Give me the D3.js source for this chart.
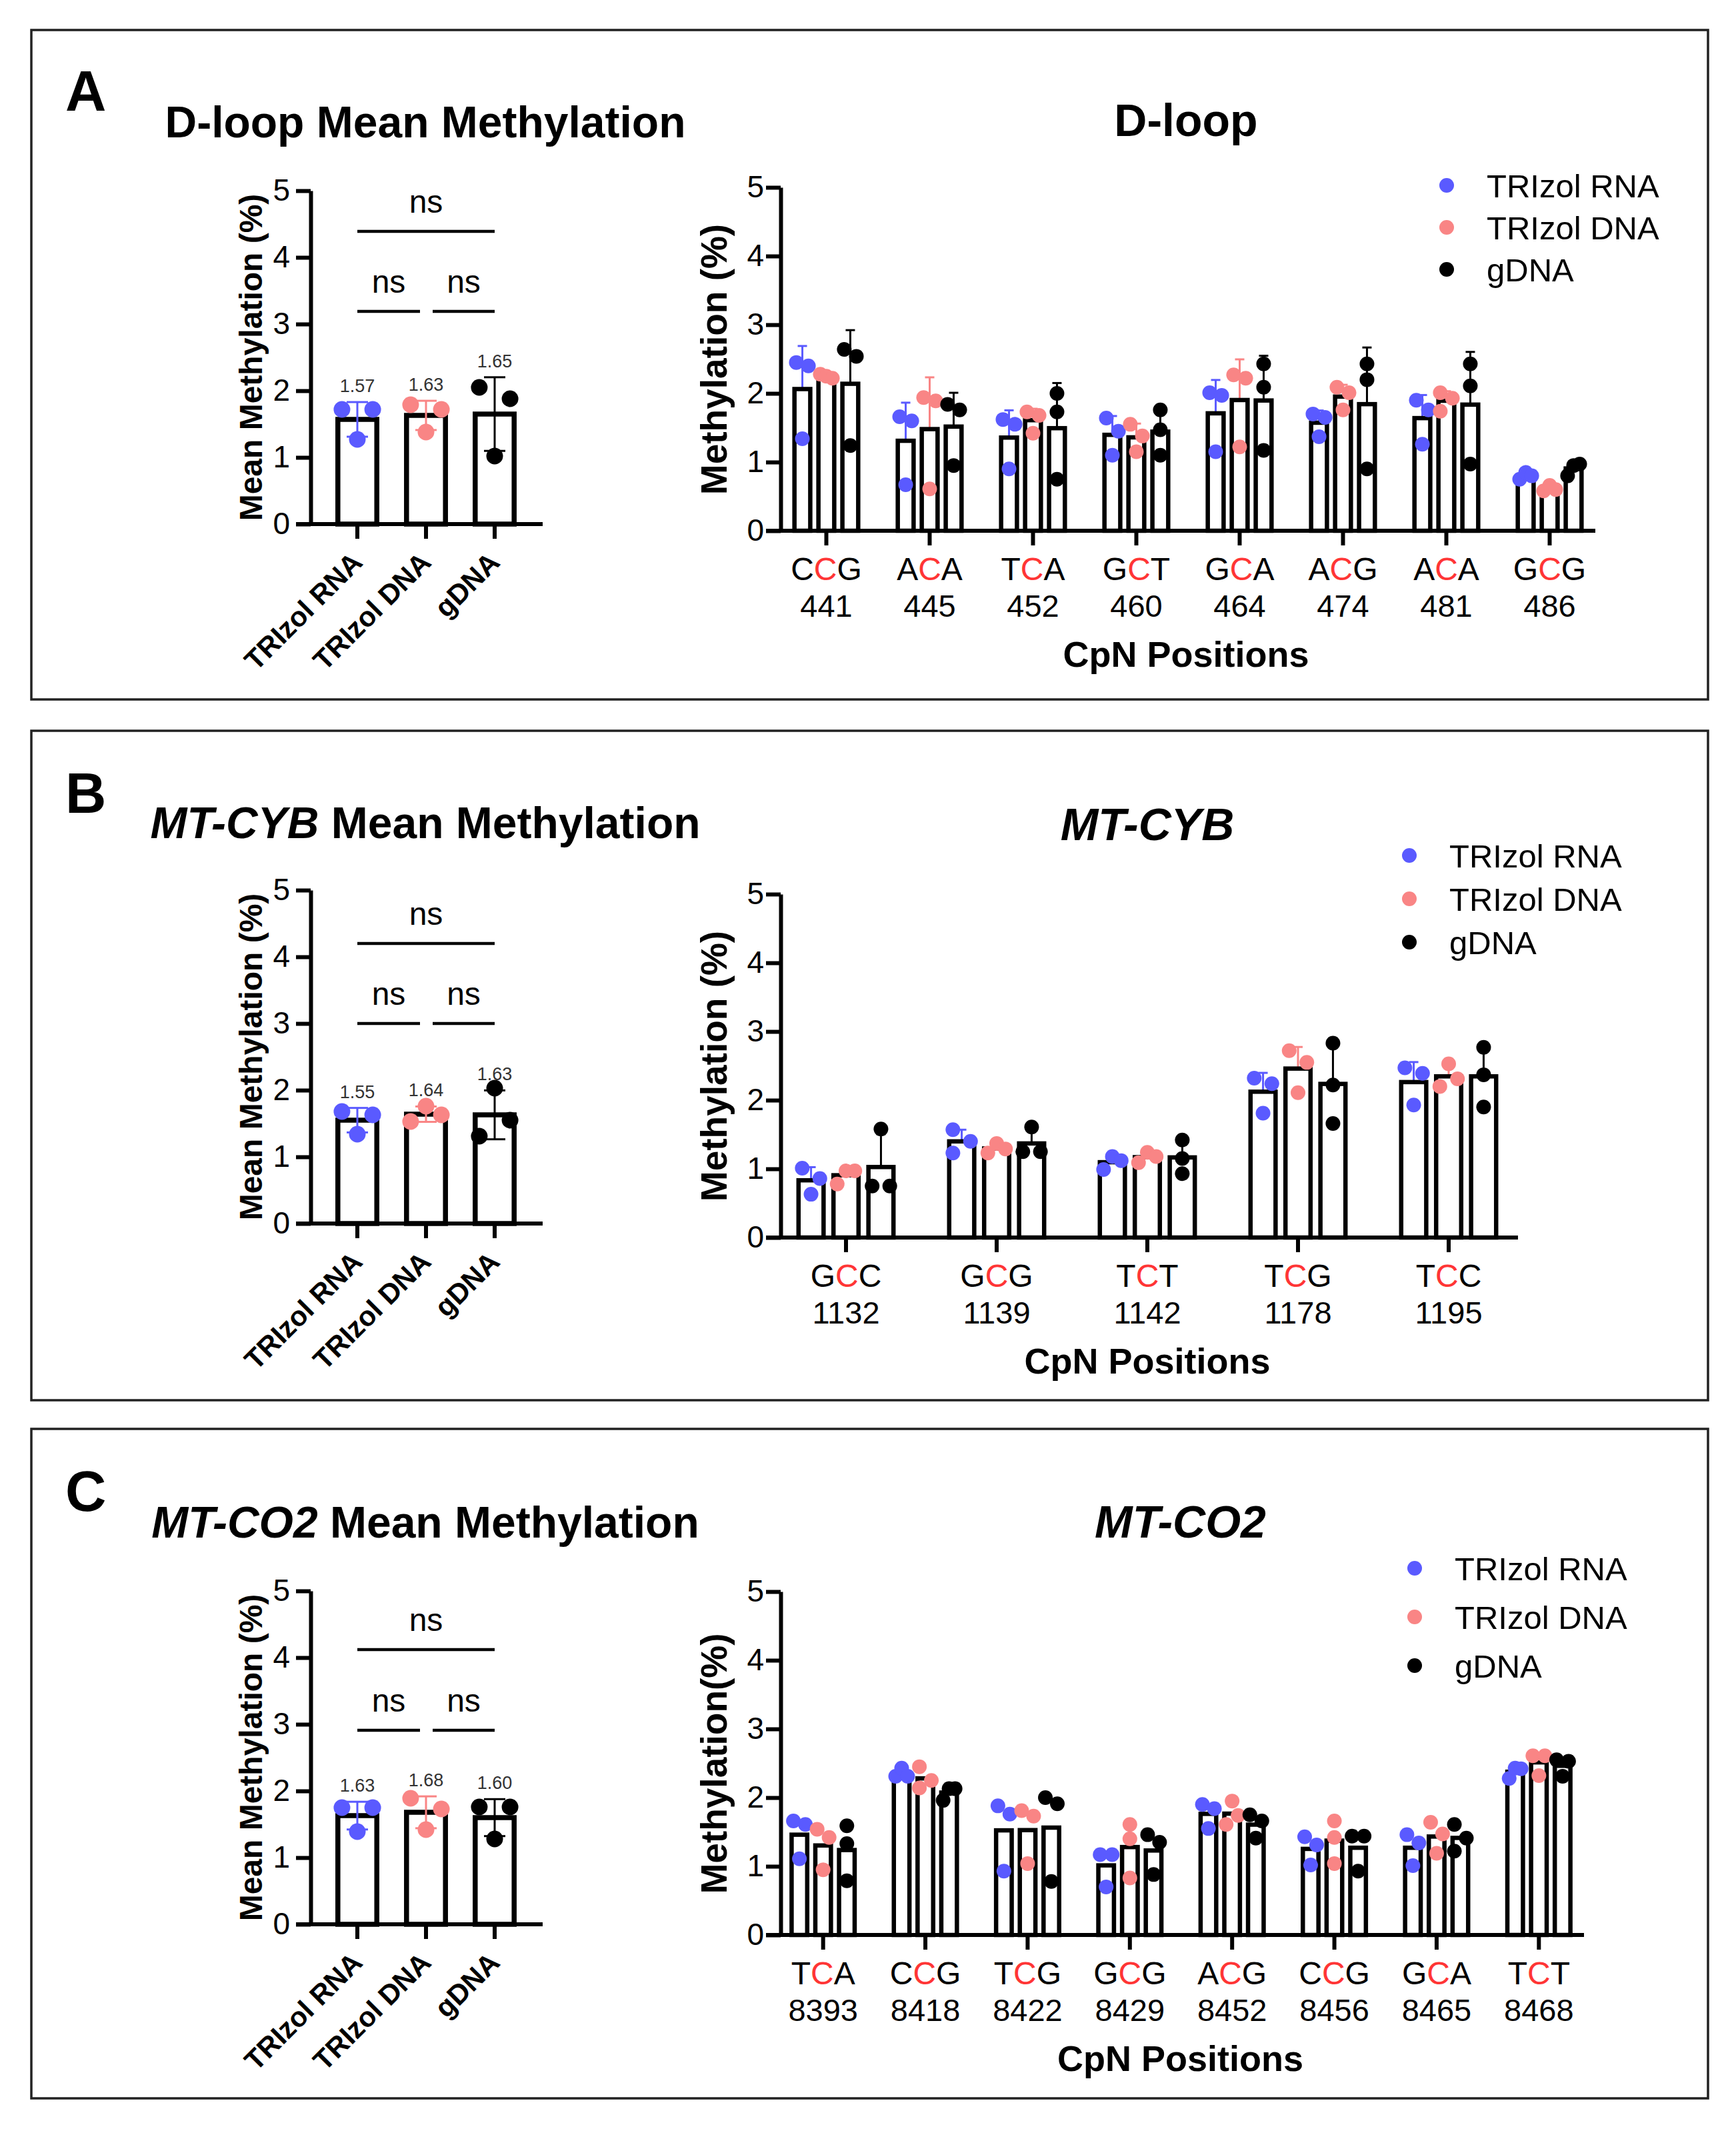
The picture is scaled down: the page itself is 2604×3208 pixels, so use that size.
<!DOCTYPE html>
<html>
<head>
<meta charset="utf-8">
<script src="https://cdn.jsdelivr.net/npm/d3@7"></script>
<style>
  body { margin: 0; background: #fff; }
  svg { display: block; font-family: "Liberation Sans", Arial, sans-serif; }
</style>
</head>
<body>
<div id="fig"></div>
<script>
// ---------- data ----------
const groups = ["TRIzol RNA", "TRIzol DNA", "gDNA"];
const groupColors = ["#5a5aff", "#f98585", "#000000"];
const yTicks = [0, 1, 2, 3, 4, 5];

// mean methylation, 3 replicates per extraction
const dloopMean = [[1.72, 1.72, 1.27], [1.79, 1.72, 1.38], [2.05, 1.88, 1.02]];
const dloopMeanLabels = ["1.57", "1.63", "1.65"];
const cybMean = [[1.68, 1.63, 1.34], [1.53, 1.76, 1.63], [2.03, 1.31, 1.55]];
const cybMeanLabels = ["1.55", "1.64", "1.63"];
const co2Mean = [[1.75, 1.75, 1.39], [1.89, 1.73, 1.42], [1.76, 1.76, 1.28]];
const co2MeanLabels = ["1.63", "1.68", "1.60"];

// D-loop CpN sites
const dloopCodons = ["CCG", "ACA", "TCA", "GCT", "GCA", "ACG", "ACA", "GCG"];
const dloopPos = ["441", "445", "452", "460", "464", "474", "481", "486"];
const dloopRNA = [[2.45, 2.40, 1.34], [1.66, 1.60, 0.67], [1.62, 1.55, 0.90], [1.64, 1.45, 1.10],
                  [2.01, 1.97, 1.15], [1.70, 1.65, 1.37], [1.90, 1.76, 1.26], [0.75, 0.85, 0.80]];
const dloopDNA = [[2.28, 2.25, 2.22], [1.94, 1.89, 0.61], [1.73, 1.68, 1.42], [1.55, 1.38, 1.15],
                  [2.27, 2.22, 1.22], [2.09, 2.01, 1.76], [2.01, 1.93, 1.74], [0.58, 0.66, 0.60]];
const dloopG   = [[2.64, 2.54, 1.24], [1.84, 1.76, 0.95], [2.00, 1.73, 0.75], [1.76, 1.47, 1.10],
                  [2.43, 2.09, 1.17], [2.43, 2.20, 0.90], [2.43, 2.11, 0.97], [0.80, 0.95, 0.97]];

// MT-CYB CpN sites
const cybCodons = ["GCC", "GCG", "TCT", "TCG", "TCC"];
const cybPos = ["1132", "1139", "1142", "1178", "1195"];
const cybRNA = [[1.01, 0.86, 0.63], [1.57, 1.40, 1.23], [0.99, 1.18, 1.12], [2.32, 2.24, 1.81], [2.47, 2.39, 1.93]];
const cybDNA = [[0.78, 0.97, 0.97], [1.23, 1.37, 1.29], [1.09, 1.24, 1.18], [2.72, 2.55, 2.11], [2.53, 2.20, 2.31]];
const cybG   = [[1.58, 0.75, 0.75], [1.61, 1.25, 1.25], [1.42, 1.15, 0.93], [2.83, 2.22, 1.66], [2.77, 2.37, 1.90]];

// MT-CO2 CpN sites
const co2Codons = ["TCA", "CCG", "TCG", "GCG", "ACG", "CCG", "GCA", "TCT"];
const co2Pos = ["8393", "8418", "8422", "8429", "8452", "8456", "8465", "8468"];
const co2RNA = [[1.66, 1.61, 1.11], [2.31, 2.43, 2.31], [1.88, 1.76, 0.93], [1.17, 1.17, 0.70],
                [1.90, 1.84, 1.55], [1.43, 1.31, 1.02], [1.46, 1.34, 1.01], [2.28, 2.43, 2.42]];
const co2DNA = [[1.54, 1.42, 0.95], [2.14, 2.45, 2.25], [1.81, 1.73, 1.04], [1.61, 1.40, 0.83],
                [1.95, 1.61, 1.74], [1.66, 1.42, 1.04], [1.64, 1.47, 1.19], [2.61, 2.61, 2.32]];
const co2G   = [[1.59, 1.33, 0.79], [1.96, 2.13, 2.13], [2.00, 1.91, 0.78], [1.46, 1.35, 0.88],
                [1.75, 1.66, 1.41], [1.44, 1.44, 0.93], [1.61, 1.41, 1.22], [2.55, 2.53, 2.31]];

// ---------- layout ----------
const W = 2604, H = 3208;
const FONT = '"Liberation Sans", Arial, sans-serif';
const RED = "#ff3535";
const AXIS_W = 6;

const svg = d3.select("#fig").append("svg")
  .attr("width", W).attr("height", H)
  .attr("viewBox", `0 0 ${W} ${H}`);
svg.append("rect").attr("width", W).attr("height", H).attr("fill", "#fff");

const panels = [
  { letter: "A", top: 45, bottom: 1049, letterY: 166 },
  { letter: "B", top: 1096, bottom: 2100, letterY: 1219 },
  { letter: "C", top: 2143, bottom: 3147, letterY: 2266 }
];

panels.forEach(p => {
  svg.append("rect")
    .attr("x", 47).attr("y", p.top)
    .attr("width", 2562 - 47).attr("height", p.bottom - p.top)
    .attr("fill", "none").attr("stroke", "#222").attr("stroke-width", 3.5);
  svg.append("text")
    .attr("x", 98).attr("y", p.letterY)
    .attr("font-size", 85).attr("font-weight", "bold")
    .text(p.letter);
});

const mean = v => d3.mean(v);
const sd = v => d3.deviation(v);

// spread overlapping replicate dots sideways, like a scatter-dot bar chart
function spread(vals, y, thr, outer) {
  const px = vals.map(v => y(v));
  const idx = d3.range(vals.length).sort((a, b) => px[a] - px[b]);
  const clusters = [];
  let cur = [idx[0]];
  for (let k = 1; k < idx.length; k++) {
    if (px[idx[k]] - px[idx[k - 1]] < thr) cur.push(idx[k]);
    else { clusters.push(cur); cur = [idx[k]]; }
  }
  clusters.push(cur);
  const off = vals.map(() => 0);
  clusters.forEach(c => {
    if (c.length === 2) {
      const s = c.slice().sort((a, b) => a - b);
      off[s[0]] = -outer; off[s[1]] = outer;
    } else if (c.length === 3) {
      if (px[c[2]] - px[c[0]] >= thr) {
        off[c[0]] = -outer; off[c[1]] = outer; off[c[2]] = -outer;
      } else {
        c.slice().sort((a, b) => a - b).forEach((j, i) => off[j] = -outer + outer * i);
      }
    }
  });
  return off;
}

function styleYAxis(sel, size) {
  sel.select(".domain").attr("stroke-width", AXIS_W).attr("stroke", "#000");
  sel.selectAll(".tick line").attr("stroke-width", AXIS_W).attr("stroke", "#000");
  sel.selectAll(".tick text")
    .attr("font-size", size).attr("font-family", FONT).attr("fill", "#000");
}

function title(x, yb, gene, italic, rest, size) {
  const t = svg.append("text")
    .attr("x", x).attr("y", yb)
    .attr("text-anchor", "middle")
    .attr("font-size", size).attr("font-weight", "bold");
  t.append("tspan").attr("font-style", italic ? "italic" : "normal").text(gene);
  if (rest) t.append("tspan").text(rest);
}

// ---------- left charts: mean methylation ----------
function drawMean(cfg) {
  const x = d3.scaleBand().domain(groups).range([484.5, 793.5]);
  const y = d3.scaleLinear().domain([0, 5]).range([cfg.y0, cfg.y0 - 500]);
  const bw = x.bandwidth() * 0.64;
  const sw = 7.5;
  const cx = g => x(g) + x.bandwidth() / 2;
  const g = svg.append("g");

  title(638, cfg.titleY, cfg.gene, cfg.italic, " Mean Methylation", 66);

  g.append("g").attr("transform", "translate(466,0)")
    .call(d3.axisLeft(y).tickValues(yTicks).tickFormat(d3.format("d"))
      .tickSize(22).tickSizeOuter(0).tickPadding(9))
    .call(s => styleYAxis(s, 46));

  g.append("text")
    .attr("transform", `translate(393,${cfg.y0 - 250}) rotate(-90)`)
    .attr("text-anchor", "middle").attr("font-size", 48).attr("font-weight", "bold")
    .text("Mean Methylation (%)");

  g.append("line").attr("x1", 444).attr("x2", 814)
    .attr("y1", cfg.y0).attr("y2", cfg.y0)
    .attr("stroke", "#000").attr("stroke-width", AXIS_W);

  groups.forEach((grp, i) => {
    const vals = cfg.pts[i];
    const m = mean(vals), s = sd(vals);
    const c = cx(grp);
    g.append("line").attr("x1", c).attr("x2", c)
      .attr("y1", cfg.y0).attr("y2", cfg.y0 + 22)
      .attr("stroke", "#000").attr("stroke-width", AXIS_W);
    g.append("rect")
      .attr("x", c - bw / 2 + sw / 2).attr("width", bw - sw)
      .attr("y", y(m)).attr("height", cfg.y0 - y(m))
      .attr("fill", "#fff").attr("stroke", "#000").attr("stroke-width", sw);
    // error bar (mean ± SD)
    const eb = g.append("g").attr("stroke", groupColors[i]).attr("stroke-width", 3);
    eb.append("line").attr("x1", c).attr("x2", c).attr("y1", y(m - s)).attr("y2", y(m + s));
    [m - s, m + s].forEach(v => eb.append("line")
      .attr("x1", c - 16).attr("x2", c + 16).attr("y1", y(v)).attr("y2", y(v)));
    const off = spread(vals, y, 25, bw * 0.35);
    vals.forEach((v, j) => g.append("circle")
      .attr("cx", c + off[j]).attr("cy", y(v)).attr("r", 12.5)
      .attr("fill", groupColors[i]));
    g.append("text")
      .attr("x", c).attr("y", y(m + s) - 15)
      .attr("text-anchor", "middle").attr("font-size", 27).attr("fill", "#333")
      .text(cfg.labels[i]);
    g.append("text")
      .attr("transform", `translate(${c + 10},${cfg.y0 + 60}) rotate(-45)`)
      .attr("text-anchor", "end").attr("font-size", 42).attr("font-weight", "bold")
      .text(grp);
  });

  // significance brackets
  const c0 = cx(groups[0]), c1 = cx(groups[1]), c2 = cx(groups[2]);
  const lines = [
    [c0, c2, cfg.sig[0]],
    [c0, c1 - 9, cfg.sig[1]],
    [c1 + 10, c2, cfg.sig[1]]
  ];
  lines.forEach(([a, b, v]) => {
    g.append("line").attr("x1", a).attr("x2", b)
      .attr("y1", y(v)).attr("y2", y(v))
      .attr("stroke", "#000").attr("stroke-width", 4.5);
    g.append("text").attr("x", (a + b) / 2).attr("y", y(v) - 28)
      .attr("text-anchor", "middle").attr("font-size", 48)
      .text("ns");
  });
}

// ---------- right charts: per-CpN methylation ----------
function drawCpn(cfg) {
  const n = cfg.pos.length;
  const x = d3.scaleBand().domain(d3.range(n)).range(cfg.range);
  const step = x.bandwidth();
  const sub = step * 0.232, bw = step * 0.195, sw = 6.5;
  const y = d3.scaleLinear().domain([0, 5]).range([cfg.y0, cfg.y0 - 515]);
  const series = [cfg.rna, cfg.dna, cfg.g];
  const g = svg.append("g");
  const axisEnd = cfg.range[1] - 9;
  const midX = (1149 + axisEnd) / 2 + 8;

  title(midX, cfg.titleY, cfg.gene, cfg.italic, "", 68);

  g.append("g").attr("transform", "translate(1171,0)")
    .call(d3.axisLeft(y).tickValues(yTicks).tickFormat(d3.format("d"))
      .tickSize(22).tickSizeOuter(0).tickPadding(3))
    .call(s => styleYAxis(s, 46));

  g.append("text")
    .attr("transform", `translate(1090,${cfg.y0 - 257}) rotate(-90)`)
    .attr("text-anchor", "middle").attr("font-size", 55).attr("font-weight", "bold")
    .text(cfg.yLabel);

  g.append("line").attr("x1", 1149).attr("x2", axisEnd)
    .attr("y1", cfg.y0).attr("y2", cfg.y0)
    .attr("stroke", "#000").attr("stroke-width", AXIS_W);

  d3.range(n).forEach(k => {
    const c = x(k) + step / 2;
    g.append("line").attr("x1", c).attr("x2", c)
      .attr("y1", cfg.y0).attr("y2", cfg.y0 + 22)
      .attr("stroke", "#000").attr("stroke-width", AXIS_W);
    const cod = cfg.codons[k];
    const t = g.append("text").attr("x", c).attr("y", cfg.y0 + 74)
      .attr("text-anchor", "middle").attr("font-size", 48);
    t.append("tspan").text(cod[0]);
    t.append("tspan").attr("fill", RED).text(cod[1]);
    t.append("tspan").text(cod[2]);
    g.append("text").attr("x", c).attr("y", cfg.y0 + 129)
      .attr("text-anchor", "middle").attr("font-size", 47)
      .text(cfg.pos[k]);

    series.forEach((ser, i) => {
      const vals = ser[k];
      const m = mean(vals), s = sd(vals);
      const bc = c + (i - 1) * sub;
      if (cfg.errorBars) {
        const eb = g.append("g").attr("stroke", groupColors[i]).attr("stroke-width", 3);
        eb.append("line").attr("x1", bc).attr("x2", bc).attr("y1", y(m)).attr("y2", y(m + s));
        eb.append("line").attr("x1", bc - 7).attr("x2", bc + 7).attr("y1", y(m + s)).attr("y2", y(m + s));
      }
      g.append("rect")
        .attr("x", bc - bw / 2 + sw / 2).attr("width", bw - sw)
        .attr("y", y(m)).attr("height", cfg.y0 - y(m))
        .attr("fill", "#fff").attr("stroke", "#000").attr("stroke-width", sw);
    });
    series.forEach((ser, i) => {
      const vals = ser[k];
      const bc = c + (i - 1) * sub;
      const off = spread(vals, y, 21, bw * 0.3);
      vals.forEach((v, j) => g.append("circle")
        .attr("cx", bc + off[j]).attr("cy", y(v)).attr("r", 11)
        .attr("fill", groupColors[i]));
    });
  });

  g.append("text").attr("x", midX).attr("y", cfg.y0 + 204)
    .attr("text-anchor", "middle").attr("font-size", 54).attr("font-weight", "bold")
    .text("CpN Positions");

  // legend
  groups.forEach((grp, i) => {
    const ly = cfg.legend.y + i * cfg.legend.dy;
    g.append("circle").attr("cx", cfg.legend.x).attr("cy", ly).attr("r", 11)
      .attr("fill", groupColors[i]);
    g.append("text").attr("x", cfg.legend.x + 60).attr("y", ly).attr("dy", "0.36em")
      .attr("font-size", 49).text(grp);
  });
}

// ---------- panels ----------
drawMean({ y0: 786, titleY: 206, gene: "D-loop", italic: false, pts: dloopMean, labels: dloopMeanLabels, sig: [4.39, 3.19] });
drawMean({ y0: 1835, titleY: 1257, gene: "MT-CYB", italic: true, pts: cybMean, labels: cybMeanLabels, sig: [4.2, 3.0] });
drawMean({ y0: 2886, titleY: 2306, gene: "MT-CO2", italic: true, pts: co2Mean, labels: co2MeanLabels, sig: [4.12, 2.91] });

drawCpn({ y0: 796, range: [1162, 2402], titleY: 204, gene: "D-loop", italic: false,
  codons: dloopCodons, pos: dloopPos, rna: dloopRNA, dna: dloopDNA, g: dloopG,
  errorBars: true, yLabel: "Methylation (%)", legend: { x: 2170, y: 278, dy: 63 } });
drawCpn({ y0: 1856, range: [1156, 2286], titleY: 1260, gene: "MT-CYB", italic: true,
  codons: cybCodons, pos: cybPos, rna: cybRNA, dna: cybDNA, g: cybG,
  errorBars: true, yLabel: "Methylation (%)", legend: { x: 2114, y: 1283, dy: 65 } });
drawCpn({ y0: 2902, range: [1158, 2385], titleY: 2306, gene: "MT-CO2", italic: true,
  codons: co2Codons, pos: co2Pos, rna: co2RNA, dna: co2DNA, g: co2G,
  errorBars: false, yLabel: "Methylation(%)", legend: { x: 2122, y: 2352, dy: 73 } });
</script>
</body>
</html>
